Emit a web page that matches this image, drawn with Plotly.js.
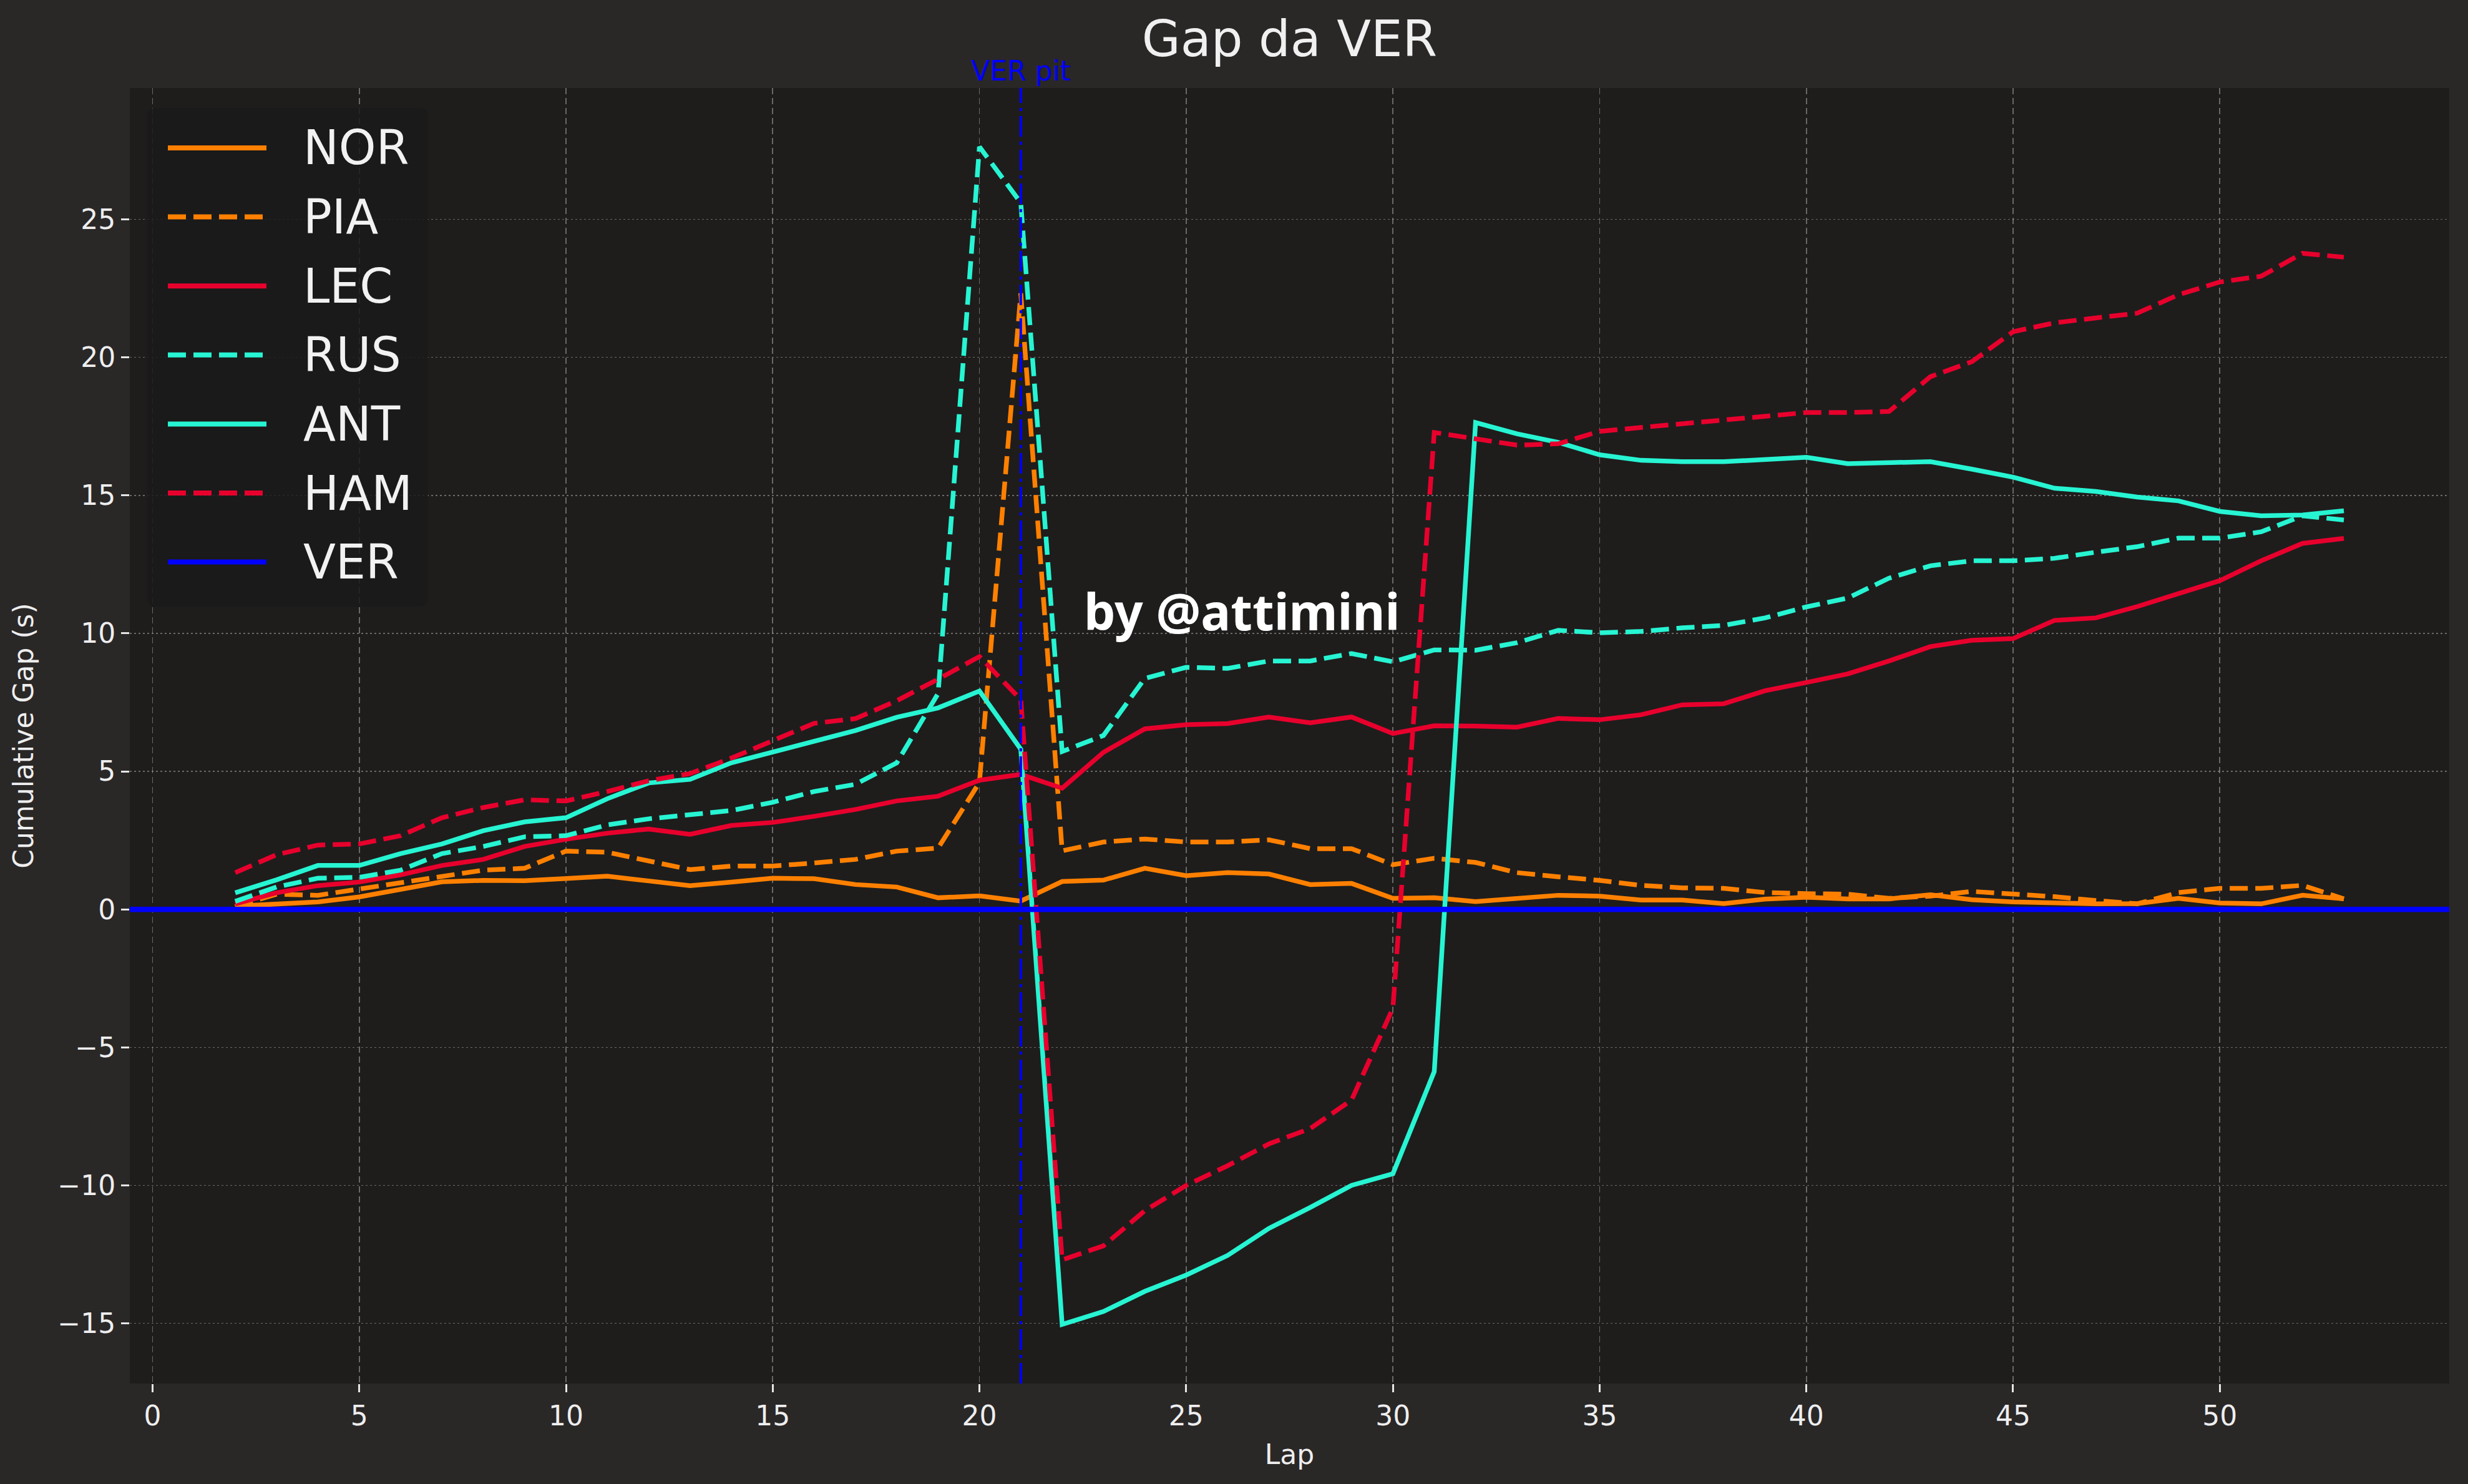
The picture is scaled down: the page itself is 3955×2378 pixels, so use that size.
<!DOCTYPE html>
<html>
<head>
<meta charset="utf-8">
<script src="https://cdn.plot.ly/plotly-3.0.1.min.js"></script>
<style>
  html, body { margin: 0; padding: 0; background: #2a2727; }
  #chart { width: 3955px; height: 2378px; }
</style>
</head>
<body>
<div id="chart"></div>
<script>
// laps 2..53
const laps = [2, 3, 4, 5, 6, 7, 8, 9, 10, 11, 12, 13, 14, 15, 16, 17, 18, 19, 20, 21,
  22, 23, 24, 25, 26, 27, 28, 29, 30, 31, 32, 33, 34, 35, 36, 37, 38, 39, 40, 41,
  42, 43, 44, 45, 46, 47, 48, 49, 50, 51, 52, 53];

// cumulative gap to VER (s)
const nor = [0.12, 0.2, 0.27, 0.45, 0.73, 1.0, 1.05, 1.04, 1.12, 1.2, 1.03, 0.86, 0.99, 1.13, 1.11, 0.9, 0.81, 0.42, 0.49, 0.3,
  1.01, 1.06, 1.49, 1.22, 1.33, 1.28, 0.9, 0.94, 0.4, 0.42, 0.28, 0.38, 0.51, 0.48, 0.34, 0.34, 0.21, 0.37, 0.44, 0.38,
  0.38, 0.53, 0.35, 0.27, 0.22, 0.2, 0.21, 0.4, 0.23, 0.2, 0.51, 0.38];
const pia = [0.1, 0.55, 0.51, 0.73, 0.94, 1.2, 1.42, 1.49, 2.11, 2.07, 1.76, 1.44, 1.57, 1.57, 1.68, 1.81, 2.11, 2.22, 4.6, 22.32,
  2.12, 2.44, 2.55, 2.44, 2.44, 2.52, 2.2, 2.2, 1.62, 1.85, 1.7, 1.33, 1.18, 1.05, 0.87, 0.78, 0.76, 0.61, 0.57, 0.55,
  0.4, 0.48, 0.65, 0.57, 0.46, 0.32, 0.2, 0.61, 0.76, 0.76, 0.87, 0.38];
const lec = [0.2, 0.6, 0.86, 0.99, 1.25, 1.59, 1.81, 2.28, 2.54, 2.76, 2.91, 2.72, 3.04, 3.15, 3.37, 3.62, 3.93, 4.1, 4.68, 4.89,
  4.39, 5.69, 6.54, 6.69, 6.73, 6.97, 6.76, 6.97, 6.37, 6.65, 6.64, 6.6, 6.92, 6.87, 7.05, 7.41, 7.45, 7.92, 8.22, 8.53,
  9.0, 9.52, 9.75, 9.81, 10.47, 10.56, 10.97, 11.46, 11.91, 12.63, 13.26, 13.44];
const rus = [0.29, 0.81, 1.13, 1.16, 1.42, 2.02, 2.28, 2.63, 2.67, 3.06, 3.28, 3.41, 3.58, 3.88, 4.27, 4.53, 5.31, 7.82, 27.63, 25.6,
  5.72, 6.3, 8.37, 8.77, 8.73, 9.0, 9.0, 9.27, 8.97, 9.4, 9.39, 9.66, 10.11, 10.02, 10.07, 10.2, 10.29, 10.56, 10.96, 11.28,
  12.0, 12.45, 12.63, 12.63, 12.72, 12.94, 13.14, 13.45, 13.45, 13.68, 14.26, 14.11];
const ant = [0.6, 1.07, 1.59, 1.59, 2.02, 2.37, 2.85, 3.17, 3.32, 4.01, 4.58, 4.71, 5.31, 5.7, 6.09, 6.48, 6.96, 7.3, 7.91, 5.8,
  -15.04, -14.57, -13.84, -13.25, -12.54, -11.56, -10.8, -10.0, -9.58, -5.88, 17.64, 17.23, 16.92, 16.47, 16.27, 16.22, 16.22, 16.29, 16.38, 16.15,
  16.17, 16.22, 15.95, 15.66, 15.26, 15.14, 14.94, 14.8, 14.42, 14.26, 14.29, 14.44];
const ham = [1.33, 1.98, 2.33, 2.37, 2.67, 3.32, 3.69, 3.97, 3.93, 4.27, 4.66, 4.92, 5.48, 6.09, 6.74, 6.91, 7.56, 8.34, 9.16, 7.6,
  -12.7, -12.19, -10.92, -10.0, -9.29, -8.5, -7.94, -6.91, -3.58, 17.28, 17.05, 16.82, 16.87, 17.32, 17.46, 17.59, 17.72, 17.86, 18.0, 18.0,
  18.04, 19.3, 19.84, 20.93, 21.25, 21.43, 21.6, 22.27, 22.73, 22.94, 23.77, 23.63];

const verGap = 0;
const verPitLap = 21;

const drivers = ['NOR', 'PIA', 'LEC', 'RUS', 'ANT', 'HAM'];
const gaps = [nor, pia, lec, rus, ant, ham];
const colors = ['#FF8000', '#FF8000', '#E8002D', '#27F4D2', '#27F4D2', '#E8002D'];
const dashes = ['solid', '29px,12px', 'solid', '29px,12px', 'solid', '29px,12px'];
const verColor = '#0000FF';

const xTicks = [0, 5, 10, 15, 20, 25, 30, 35, 40, 45, 50];
const yTicks = [-15, -10, -5, 0, 5, 10, 15, 20, 25];

const W = 3955, H = 2378;
const M = { l: 208, r: 30, t: 141, b: 161 };
const plotW = W - M.l - M.r, plotH = H - M.t - M.b;
const px = (x) => (x - M.l) / plotW;
const py = (y) => (H - M.b - y) / plotH;

const FONT = 'DejaVu Sans, sans-serif';
const TXT = '#eeeeee';

const traces = drivers.map((d, i) => ({
  type: 'scatter',
  mode: 'lines',
  name: d,
  x: laps,
  y: gaps[i],
  line: { color: colors[i], width: 7.5, dash: dashes[i] },
  showlegend: false,
  hoverinfo: 'skip'
}));

const shapes = [
  // VER reference line
  {
    type: 'line', xref: 'x domain', x0: 0, x1: 1, yref: 'y', y0: verGap, y1: verGap,
    line: { color: verColor, width: 8.5 }, layer: 'above'
  },
  // VER pit lap
  {
    type: 'line', xref: 'x', x0: verPitLap, x1: verPitLap, yref: 'y domain', y0: 0, y1: 1,
    line: { color: verColor, width: 4, dash: '33px,8px,5px,8px' }, layer: 'above'
  }
];

// legend, matplotlib style (long line samples)
const legNames = drivers.concat(['VER']);
const legColors = colors.concat([verColor]);
const legDashes = dashes.concat(['solid']);
const bx0 = 236, bx1 = 686, by0 = 173, by1 = 972, r = 14;
const rx = r / plotW, ry = r / plotH;
const X0 = px(bx0), X1 = px(bx1), Y0 = py(by1), Y1 = py(by0);
shapes.push({
  type: 'path', xref: 'paper', yref: 'paper', layer: 'above',
  path: `M ${X0 + rx},${Y0} L ${X1 - rx},${Y0} Q ${X1},${Y0} ${X1},${Y0 + ry} L ${X1},${Y1 - ry} Q ${X1},${Y1} ${X1 - rx},${Y1} ` +
        `L ${X0 + rx},${Y1} Q ${X0},${Y1} ${X0},${Y1 - ry} L ${X0},${Y0 + ry} Q ${X0},${Y0} ${X0 + rx},${Y0} Z`,
  fillcolor: 'rgba(26,26,26,0.85)', line: { width: 0 }
});
const annotations = [];
legNames.forEach((n, i) => {
  const yy = 237 + i * 110.6;
  shapes.push({
    type: 'line', xref: 'paper', yref: 'paper', layer: 'above',
    x0: px(269), x1: px(427), y0: py(yy), y1: py(yy),
    line: { color: legColors[i], width: 8, dash: legDashes[i] }
  });
  annotations.push({
    xref: 'paper', yref: 'paper', x: px(484), y: py(yy), xanchor: 'left', yanchor: 'middle',
    text: n, showarrow: false, font: { family: FONT, size: 76, color: '#f2f2f2' }
  });
});

annotations.push({
  xref: 'x', yref: 'paper', x: verPitLap, y: 1, xanchor: 'center', yanchor: 'bottom',
  text: 'VER pit', showarrow: false, font: { family: FONT, size: 44, color: verColor }
});
annotations.push({
  xref: 'x', yref: 'y', x: 22.5, y: 9.55, xanchor: 'left', yanchor: 'bottom',
  text: 'by @attimini', showarrow: false,
  font: { family: 'Noto Sans, Open Sans, sans-serif', size: 80, color: '#ffffff', weight: 'bold' }
});

const axisCommon = {
  showgrid: true,
  gridcolor: 'rgba(200,200,200,0.45)',
  gridwidth: 1.6,
  zeroline: false,
  showline: false,
  ticks: 'outside',
  ticklen: 13,
  tickwidth: 3,
  tickcolor: '#e6e6e6',
  tickfont: { family: FONT, size: 44, color: TXT },
  fixedrange: true
};

const layout = {
  width: W,
  height: H,
  margin: { l: M.l, r: M.r, t: M.t, b: M.b, pad: 0 },
  paper_bgcolor: '#2a2727',
  plot_bgcolor: '#1e1d1c',
  showlegend: false,
  title: {
    text: 'Gap da VER',
    font: { family: FONT, size: 80, color: '#f0f0f0' },
    x: 0.5 + (M.l - M.r) / 2 / W, xanchor: 'center',
    y: 1 - 62 / H, yanchor: 'middle', yref: 'container'
  },
  xaxis: Object.assign({}, axisCommon, {
    range: [-0.55, 55.55],
    tickmode: 'array',
    tickvals: xTicks,
    griddash: '10px,6px',
    title: { text: 'Lap', font: { family: FONT, size: 44, color: TXT }, standoff: 22 }
  }),
  yaxis: Object.assign({}, axisCommon, {
    range: [-17.18, 29.76],
    tickmode: 'array',
    tickvals: yTicks,
    griddash: '3px,4px',
    title: { text: 'Cumulative Gap (s)', font: { family: FONT, size: 44, color: TXT }, standoff: 24 }
  }),
  shapes: shapes,
  annotations: annotations
};

Plotly.newPlot('chart', traces, layout, { staticPlot: true, displayModeBar: false });
</script>
</body>
</html>
